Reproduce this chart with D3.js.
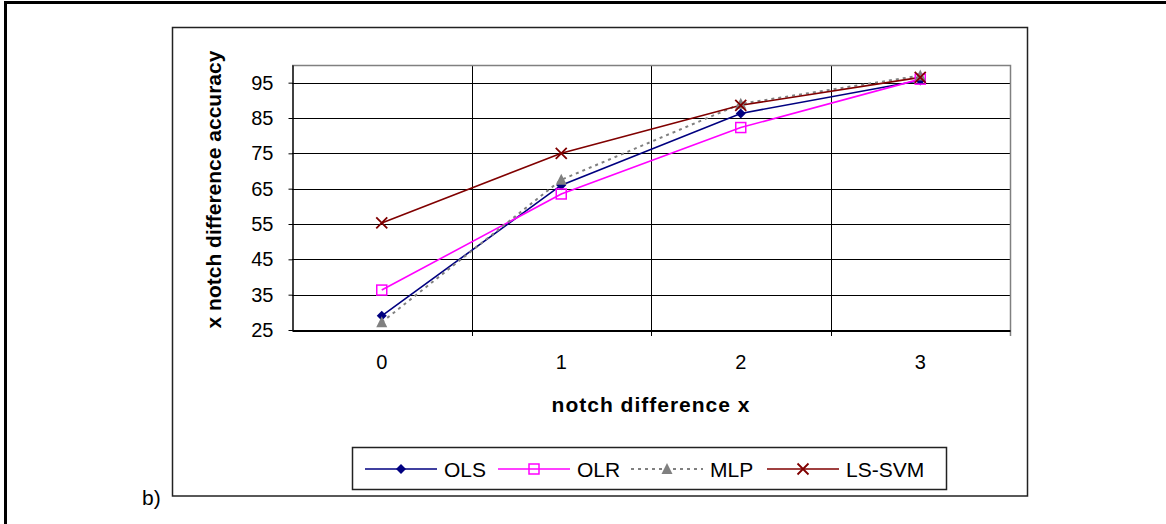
<!DOCTYPE html>
<html lang="en">
<head>
  <meta charset="UTF-8">
  <title>notch difference accuracy</title>
  <style>
    body { margin: 0; background: #fff; }
    svg { display: block; font-family: Arial, "Liberation Sans", sans-serif; }
  </style>
</head>
<body>
<script src="https://cdn.jsdelivr.net/npm/d3@7"></script>
<script>
  // data
  var categories = ["0", "1", "2", "3"];
  var yTicks = [25, 35, 45, 55, 65, 75, 85, 95];
  var seriesNames = ["OLS", "OLR", "MLP", "LS-SVM"];
  var olsValues = [29, 66, 86.3, 95.6];
  var olrValues = [36.3, 63.5, 82.3, 96];
  var mlpValues = [27.2, 67.5, 89, 97];
  var lssvmValues = [55.3, 75, 88.6, 96.5];

  var W = 1166, H = 524;
  var plot = {left: 292, top: 65, right: 1010, bottom: 330};

  var svg = d3.select("body").append("svg")
    .attr("width", W)
    .attr("height", H);

  // outer frame (only top and left edges show)
  svg.append("line").attr("x1", 4).attr("x2", W).attr("y1", 2.5).attr("y2", 2.5)
    .attr("stroke", "#000").attr("stroke-width", 3);
  svg.append("line").attr("x1", 5.5).attr("x2", 5.5).attr("y1", 1).attr("y2", H)
    .attr("stroke", "#000").attr("stroke-width", 3);

  // chart box
  svg.append("rect")
    .attr("x", 172.5).attr("y", 27.5).attr("width", 855).attr("height", 468.5)
    .attr("fill", "#fff").attr("stroke", "#222").attr("stroke-width", 1.5);

  var xScale = d3.scaleBand()
    .domain(categories)
    .range([plot.left, plot.right])
    .padding(0);
  var yScale = d3.scaleLinear()
    .domain([25, 100])
    .range([plot.bottom, plot.top]);

  function cx(i) { return xScale(categories[i]) + xScale.bandwidth() / 2; }

  // horizontal gridlines
  svg.append("g")
    .selectAll("line")
    .data(yTicks)
    .enter().append("line")
    .attr("x1", plot.left).attr("x2", plot.right)
    .attr("y1", function(d) { return Math.round(yScale(d)) + 0.5; })
    .attr("y2", function(d) { return Math.round(yScale(d)) + 0.5; })
    .attr("stroke", "#000").attr("stroke-width", 1);

  // vertical gridlines at category boundaries
  svg.append("g")
    .selectAll("line")
    .data(categories.slice(1))
    .enter().append("line")
    .attr("x1", function(d) { return Math.round(xScale(d)) + 0.5; })
    .attr("x2", function(d) { return Math.round(xScale(d)) + 0.5; })
    .attr("y1", plot.top).attr("y2", plot.bottom + 6)
    .attr("stroke", "#000").attr("stroke-width", 1);

  // plot area top and right edge
  svg.append("path")
    .attr("d", "M" + plot.left + "," + (plot.top + 0.5) + "H" + (plot.right + 0.5) + "V" + (plot.bottom + 6))
    .attr("fill", "none").attr("stroke", "#808080").attr("stroke-width", 1.5);

  // y axis
  var yAxis = svg.append("g")
    .attr("transform", "translate(" + (plot.left + 0.5) + ",0)")
    .call(d3.axisLeft(yScale).tickValues(yTicks).tickSize(4).tickPadding(15).tickSizeOuter(0));
  yAxis.select(".domain").attr("stroke", "#000").attr("stroke-width", 1.5);
  yAxis.selectAll("line").attr("stroke", "#000");
  yAxis.selectAll("text").attr("font-size", 20).attr("fill", "#000")
    .attr("font-family", "Arial, 'Liberation Sans', sans-serif");

  // x axis
  var xAxis = svg.append("g")
    .attr("transform", "translate(0," + (plot.bottom + 0.5) + ")")
    .call(d3.axisBottom(xScale).tickSize(0).tickPadding(24).tickSizeOuter(0));
  xAxis.select(".domain").attr("stroke", "#000").attr("stroke-width", 2);
  xAxis.selectAll("text").attr("font-size", 20).attr("fill", "#000")
    .attr("font-family", "Arial, 'Liberation Sans', sans-serif");

  // axis titles
  svg.append("text")
    .attr("x", (plot.left + plot.right) / 2).attr("y", 412)
    .attr("text-anchor", "middle")
    .attr("font-size", 21).attr("font-weight", "bold")
    .attr("letter-spacing", 1)
    .text("notch difference x");
  svg.append("text")
    .attr("transform", "translate(221," + ((plot.top + plot.bottom) / 2 - 8) + ") rotate(-90)")
    .attr("text-anchor", "middle")
    .attr("font-size", 21).attr("font-weight", "bold")
    .text("x notch difference accuracy");

  var series = [
    {name: seriesNames[0], values: olsValues, color: "#000080", dash: null, marker: "diamond"},
    {name: seriesNames[1], values: olrValues, color: "#ff00ff", dash: null, marker: "square"},
    {name: seriesNames[2], values: mlpValues, color: "#808080", dash: "3,4", marker: "triangle"},
    {name: seriesNames[3], values: lssvmValues, color: "#800000", dash: null, marker: "cross"}
  ];

  var line = d3.line()
    .x(function(d, i) { return cx(i); })
    .y(function(d) { return yScale(d); });

  function drawMarker(g, type, color) {
    if (type === "diamond") {
      g.append("path").attr("d", "M0,-5L5,0L0,5L-5,0Z").attr("fill", color);
    } else if (type === "square") {
      g.append("rect").attr("x", -5).attr("y", -5).attr("width", 10).attr("height", 10)
        .attr("fill", "none").attr("stroke", color).attr("stroke-width", 1.5);
    } else if (type === "triangle") {
      g.append("path").attr("d", "M0,-6L5.5,5L-5.5,5Z").attr("fill", color);
    } else {
      g.append("path").attr("d", "M-5.5,-5.5L5.5,5.5M-5.5,5.5L5.5,-5.5")
        .attr("stroke", color).attr("stroke-width", 1.8).attr("fill", "none");
    }
  }

  series.forEach(function(s) {
    svg.append("path")
      .datum(s.values)
      .attr("fill", "none")
      .attr("stroke", s.color)
      .attr("stroke-width", s.dash ? 2 : 1.6)
      .attr("stroke-dasharray", s.dash)
      .attr("d", line);
  });
  // markers on top, drawn in series order
  series.forEach(function(s) {
    s.values.forEach(function(v, i) {
      var g = svg.append("g").attr("transform", "translate(" + cx(i) + "," + yScale(v) + ")");
      drawMarker(g, s.marker, s.color);
    });
  });

  // legend
  var legend = svg.append("g");
  legend.append("rect")
    .attr("x", 352.5).attr("y", 447.5).attr("width", 594).attr("height", 42)
    .attr("fill", "#fff").attr("stroke", "#222").attr("stroke-width", 1.5);
  var legendX = [365, 498, 631, 767];
  series.forEach(function(s, i) {
    var x0 = legendX[i], ly = 469;
    legend.append("line")
      .attr("x1", x0).attr("x2", x0 + 72).attr("y1", ly).attr("y2", ly)
      .attr("stroke", s.color).attr("stroke-width", s.dash ? 2 : 1.6)
      .attr("stroke-dasharray", s.dash);
    drawMarker(legend.append("g").attr("transform", "translate(" + (x0 + 36) + "," + ly + ")"), s.marker, s.color);
    legend.append("text")
      .attr("x", x0 + 79).attr("y", ly + 7.5)
      .attr("font-size", 21)
      .text(s.name);
  });

  // panel label
  svg.append("text")
    .attr("x", 142).attr("y", 505)
    .attr("font-size", 21)
    .text("b)");
</script>
</body>
</html>
